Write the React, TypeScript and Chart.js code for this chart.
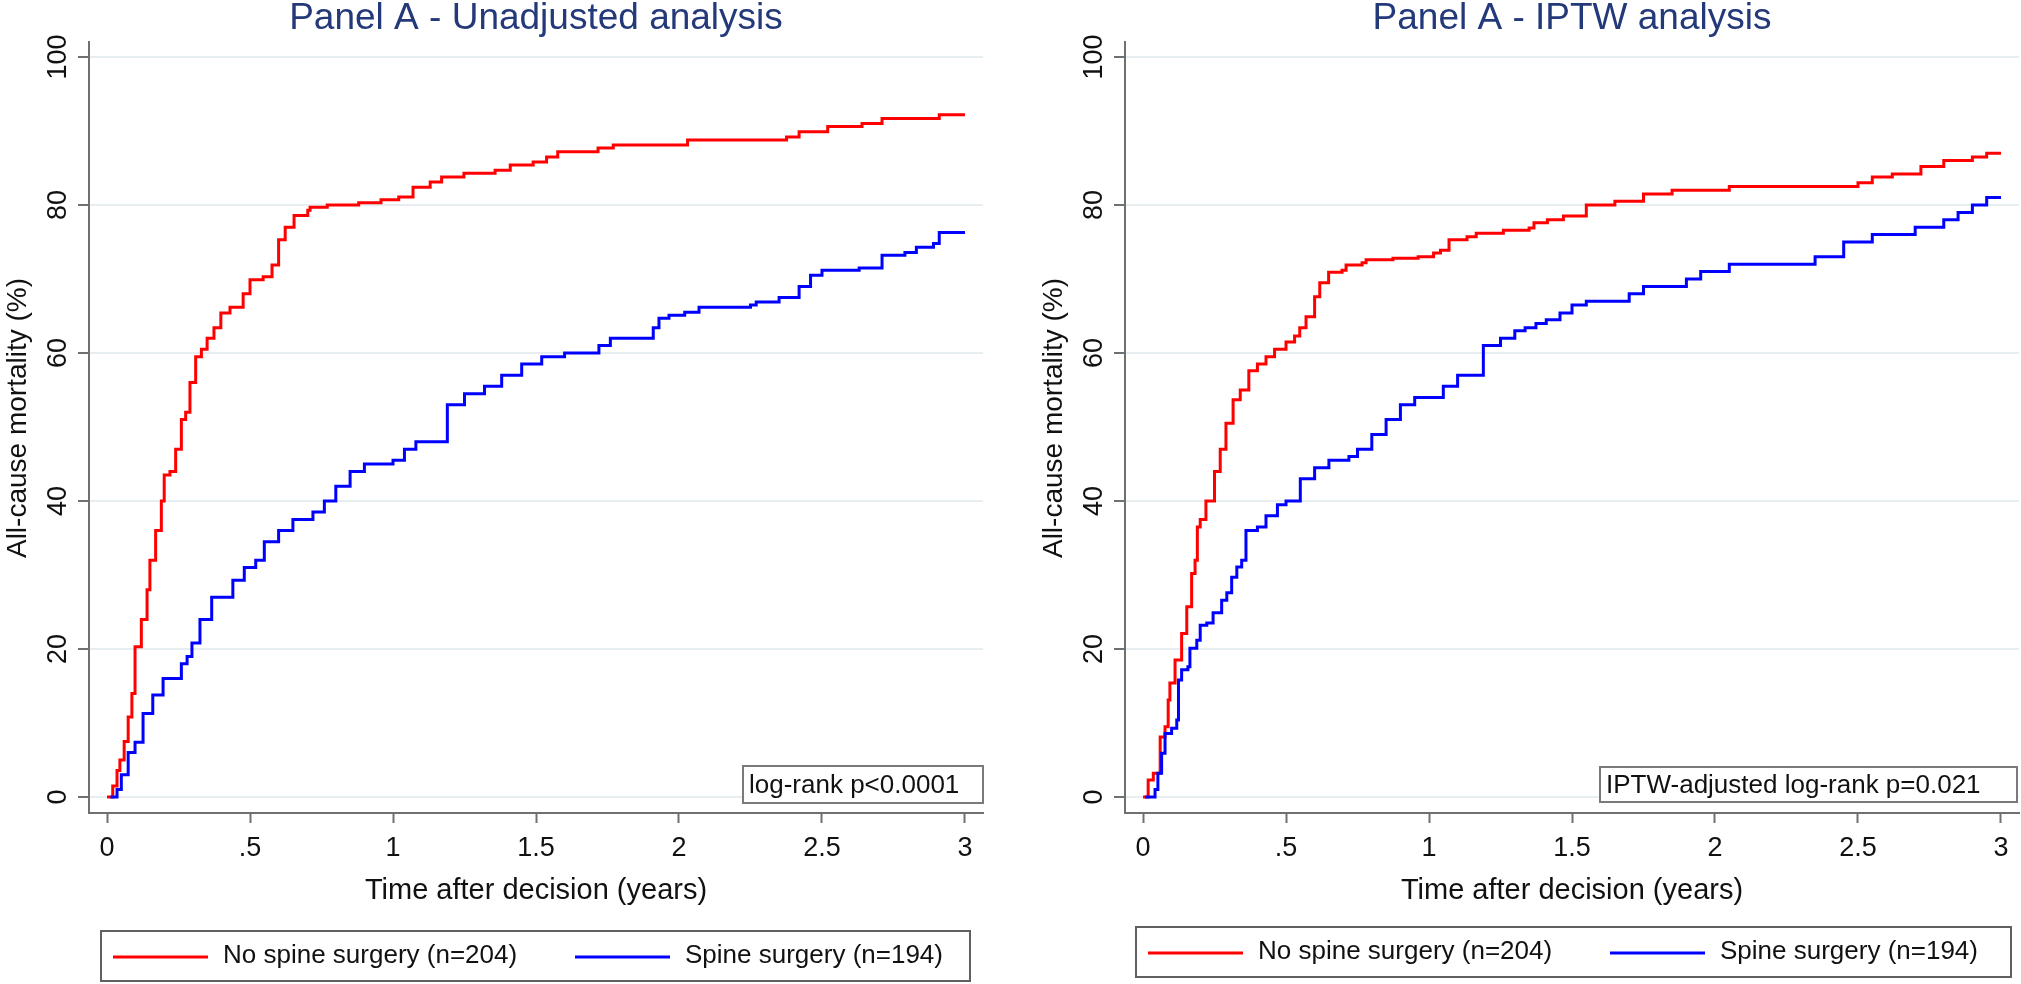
import React, { useEffect, useRef } from 'react';
import { Chart, registerables } from 'chart.js';

Chart.register(...registerables);

// ---------- data ----------
const X_TICKS = [0, 0.5, 1, 1.5, 2, 2.5, 3];
const X_TICK_LABELS = ['0', '.5', '1', '1.5', '2', '2.5', '3'];
const Y_TICKS = [0, 20, 40, 60, 80, 100];
const Y_TICK_LABELS = ['0', '20', '40', '60', '80', '100'];

const SERIES_LABELS = ['No spine surgery (n=204)', 'Spine surgery (n=194)'];
const PANEL_TITLES = ['Panel A - Unadjusted analysis', 'Panel A - IPTW analysis'];
const PANEL_NOTES = ['log-rank p<0.0001', 'IPTW-adjusted log-rank p=0.021'];
const X_TITLE = 'Time after decision (years)';
const Y_TITLE = 'All-cause mortality (%)';

// Unadjusted, no spine surgery (red)
const UNADJ_NOSURG_T = [0, 0.02, 0.035, 0.045, 0.06, 0.074, 0.087, 0.098, 0.12, 0.14, 0.15, 0.17, 0.19, 0.2, 0.22, 0.24, 0.26, 0.275, 0.29, 0.31, 0.33, 0.35, 0.374, 0.398, 0.43, 0.476, 0.5, 0.546, 0.577, 0.6, 0.623, 0.654, 0.702, 0.71, 0.77, 0.88, 0.958, 1.02, 1.07, 1.13, 1.17, 1.248, 1.357, 1.41, 1.49, 1.537, 1.576, 1.717, 1.77, 2.03, 2.376, 2.42, 2.52, 2.64, 2.71, 2.91, 3.0];
const UNADJ_NOSURG_V = [0, 1.5, 3.6, 5, 7.5, 10.8, 14, 20.3, 24, 28, 32, 36, 40, 43.5, 44, 47, 51, 52, 56, 59.5, 60.5, 62, 63.4, 65.4, 66.2, 68, 69.9, 70.3, 71.9, 75.3, 77, 78.6, 79.3, 79.7, 80, 80.3, 80.7, 81.1, 82.4, 83.1, 83.8, 84.3, 84.7, 85.4, 85.8, 86.5, 87.2, 87.7, 88.1, 88.8, 89.2, 89.9, 90.6, 91, 91.7, 92.2, 92.2];

// Unadjusted, spine surgery (blue)
const UNADJ_SURG_T = [0.012, 0.035, 0.05, 0.074, 0.098, 0.126, 0.16, 0.196, 0.26, 0.28, 0.297, 0.325, 0.366, 0.44, 0.48, 0.52, 0.55, 0.6, 0.65, 0.72, 0.76, 0.8, 0.85, 0.9, 1.0, 1.04, 1.08, 1.19, 1.25, 1.32, 1.38, 1.45, 1.52, 1.6, 1.72, 1.76, 1.91, 1.93, 1.965, 2.02, 2.07, 2.25, 2.27, 2.35, 2.42, 2.46, 2.5, 2.63, 2.71, 2.79, 2.83, 2.89, 2.91, 3.0];
const UNADJ_SURG_V = [0, 1, 3, 6, 7.4, 11.3, 13.8, 16, 18, 19, 20.8, 24, 27, 29.3, 31, 32, 34.5, 36, 37.5, 38.5, 40, 42, 44, 45, 45.5, 47, 48, 53, 54.5, 55.5, 57, 58.5, 59.5, 60, 61, 62, 63.4, 64.7, 65.1, 65.5, 66.2, 66.5, 66.9, 67.5, 69, 70.5, 71.2, 71.5, 73.2, 73.6, 74.3, 74.8, 76.3, 76.3];

// IPTW, no spine surgery (red)
const IPTW_NOSURG_T = [0, 0.018, 0.036, 0.06, 0.077, 0.088, 0.094, 0.112, 0.135, 0.153, 0.17, 0.182, 0.19, 0.2, 0.22, 0.25, 0.27, 0.29, 0.315, 0.34, 0.37, 0.4, 0.43, 0.46, 0.5, 0.53, 0.548, 0.57, 0.6, 0.618, 0.649, 0.696, 0.71, 0.766, 0.78, 0.874, 0.962, 1.016, 1.04, 1.07, 1.133, 1.165, 1.26, 1.35, 1.367, 1.414, 1.47, 1.55, 1.65, 1.75, 1.85, 2.05, 2.5, 2.55, 2.62, 2.72, 2.8, 2.9, 2.95, 3.0];
const IPTW_NOSURG_V = [0, 2.3, 3.2, 8.1, 9.5, 13.1, 15.4, 18.5, 22.1, 25.7, 30.2, 32, 36.5, 37.5, 40, 44, 47, 50.5, 53.7, 55, 57.6, 58.5, 59.5, 60.5, 61.5, 62.3, 63.4, 64.9, 67.6, 69.5, 70.9, 71.2, 71.9, 72.2, 72.6, 72.8, 73, 73.5, 73.9, 75.3, 75.7, 76.2, 76.6, 76.9, 77.6, 78, 78.5, 80, 80.5, 81.5, 82, 82.5, 83, 83.8, 84.2, 85.2, 86, 86.5, 87, 87];

// IPTW, spine surgery (blue)
const IPTW_SURG_T = [0.007, 0.042, 0.052, 0.065, 0.077, 0.1, 0.118, 0.124, 0.135, 0.157, 0.164, 0.188, 0.2, 0.223, 0.245, 0.275, 0.293, 0.31, 0.328, 0.345, 0.36, 0.4, 0.43, 0.47, 0.5, 0.55, 0.6, 0.65, 0.72, 0.75, 0.8, 0.85, 0.9, 0.95, 1.05, 1.1, 1.19, 1.25, 1.3, 1.336, 1.374, 1.41, 1.458, 1.5, 1.55, 1.7, 1.75, 1.9, 1.95, 2.05, 2.35, 2.45, 2.55, 2.7, 2.8, 2.85, 2.9, 2.95, 3.0];
const IPTW_SURG_V = [0, 1, 3.2, 5.9, 8.6, 9.3, 10.4, 15.8, 17.2, 17.6, 20.1, 21.2, 23.2, 23.5, 24.9, 26.6, 27.6, 29.7, 31.1, 32, 36, 36.5, 38, 39.5, 40, 43, 44.5, 45.5, 46, 47, 49, 51, 53, 54, 55.5, 57, 61, 62, 63, 63.4, 64, 64.5, 65.4, 66.5, 67, 68, 69, 70, 71, 72, 73, 75, 76, 77, 78, 79, 80, 81, 81];

// ---------- style / layout ----------
const FONT = '"Liberation Sans", Arial, Helvetica, sans-serif';
const RED = '#ff0000';
const BLUE = '#0000ff';
const AXIS_COLOR = '#707070';
const GRID_COLOR = '#e6eef1';
const TITLE_COLOR = '#24397a';
const TEXT_COLOR = '#111111';
const X_MIN = -0.063;
const X_MAX = 3.063;
const Y_MIN = -2.16;
const Y_MAX = 102.03;
const PAGE_H = 984;

type PanelCfg = {
  pageLeft: number;
  width: number;
  title: string;
  note: string;
  noteBox: [number, number, number, number];
  legendBox: [number, number, number, number];
  redT: number[];
  redV: number[];
  blueT: number[];
  blueV: number[];
};

const PANELS: PanelCfg[] = [
  {
    pageLeft: 0,
    width: 1036,
    title: PANEL_TITLES[0],
    note: PANEL_NOTES[0],
    noteBox: [743, 766, 983, 803],
    legendBox: [101, 931, 970, 981],
    redT: UNADJ_NOSURG_T,
    redV: UNADJ_NOSURG_V,
    blueT: UNADJ_SURG_T,
    blueV: UNADJ_SURG_V,
  },
  {
    pageLeft: 1036,
    width: 985,
    title: PANEL_TITLES[1],
    note: PANEL_NOTES[1],
    noteBox: [564, 767, 981, 802],
    legendBox: [100, 927, 975, 977],
    redT: IPTW_NOSURG_T,
    redV: IPTW_NOSURG_V,
    blueT: IPTW_SURG_T,
    blueV: IPTW_SURG_V,
  },
];

function toPoints(t: number[], v: number[]) {
  return t.map((x, i) => ({ x, y: v[i] }));
}

function Panel({ cfg }: { cfg: PanelCfg }) {
  const ref = useRef<HTMLCanvasElement | null>(null);

  useEffect(() => {
    if (!ref.current) return;

    const textPlugin = {
      id: 'panelText',
      afterDraw(chart: any) {
        const ctx: CanvasRenderingContext2D = chart.ctx;
        const { left, right } = chart.chartArea;
        const cx = (left + right) / 2;
        ctx.save();
        ctx.textAlign = 'center';
        ctx.textBaseline = 'middle';

        // title
        ctx.fillStyle = TITLE_COLOR;
        ctx.font = `37px ${FONT}`;
        ctx.fillText(cfg.title, cx, 19);

        // y tick labels (rotated)
        const ys = chart.scales.y;
        ctx.fillStyle = TEXT_COLOR;
        ctx.font = `27px ${FONT}`;
        Y_TICKS.forEach((v, i) => {
          const py = ys.getPixelForValue(v);
          ctx.save();
          ctx.translate(left - 30.5, py);
          ctx.rotate(-Math.PI / 2);
          ctx.fillText(Y_TICK_LABELS[i], 0, 0);
          ctx.restore();
        });

        // y title
        ctx.font = `28px ${FONT}`;
        ctx.save();
        ctx.translate(18, 418);
        ctx.rotate(-Math.PI / 2);
        ctx.fillText(Y_TITLE, 0, 0);
        ctx.restore();

        // x title
        ctx.font = `29px ${FONT}`;
        ctx.fillText(X_TITLE, cx, 891);

        // note box
        const [nx0, ny0, nx1, ny1] = cfg.noteBox;
        ctx.fillStyle = '#ffffff';
        ctx.fillRect(nx0, ny0, nx1 - nx0, ny1 - ny0);
        ctx.strokeStyle = '#7a7a7a';
        ctx.lineWidth = 2;
        ctx.strokeRect(nx0, ny0, nx1 - nx0, ny1 - ny0);
        ctx.fillStyle = TEXT_COLOR;
        ctx.font = `26px ${FONT}`;
        ctx.textAlign = 'left';
        ctx.fillText(cfg.note, nx0 + 6, (ny0 + ny1) / 2 + 1);

        // legend
        const [lx0, ly0, lx1, ly1] = cfg.legendBox;
        ctx.strokeStyle = '#606060';
        ctx.lineWidth = 2;
        ctx.strokeRect(lx0, ly0, lx1 - lx0, ly1 - ly0);
        const ly = (ly0 + ly1) / 2;
        const ds = chart.data.datasets;
        const itemX = [lx0 + 12, lx0 + 474];
        ds.forEach((d: any, i: number) => {
          const x0 = itemX[i];
          ctx.strokeStyle = d.borderColor;
          ctx.lineWidth = 3;
          ctx.beginPath();
          ctx.moveTo(x0, ly + 1);
          ctx.lineTo(x0 + 95, ly + 1);
          ctx.stroke();
          ctx.fillStyle = TEXT_COLOR;
          ctx.font = `26px ${FONT}`;
          ctx.textAlign = 'left';
          ctx.fillText(d.label, x0 + 110, ly);
        });

        ctx.restore();
      },
    };

    const chart = new Chart(ref.current, {
      type: 'line',
      data: {
        datasets: [
          {
            label: SERIES_LABELS[0],
            data: toPoints(cfg.redT, cfg.redV),
            borderColor: RED,
            backgroundColor: RED,
            borderWidth: 3,
            pointRadius: 0,
            stepped: 'before',
            fill: false,
            order: 2,
          },
          {
            label: SERIES_LABELS[1],
            data: toPoints(cfg.blueT, cfg.blueV),
            borderColor: BLUE,
            backgroundColor: BLUE,
            borderWidth: 3,
            pointRadius: 0,
            stepped: 'before',
            fill: false,
            order: 1,
          },
        ],
      },
      options: {
        animation: false,
        responsive: false,
        devicePixelRatio: 1,
        events: [],
        layout: { padding: { left: 0, top: 42, right: cfg.width - 983, bottom: 0 } },
        plugins: {
          legend: { display: false },
          title: { display: false },
          tooltip: { enabled: false },
        },
        scales: {
          x: {
            type: 'linear',
            min: X_MIN,
            max: X_MAX,
            afterBuildTicks: (s: any) => {
              s.ticks = X_TICKS.map((v) => ({ value: v }));
            },
            afterFit: (s: any) => {
              s.height = PAGE_H - 813;
            },
            border: { display: true, color: AXIS_COLOR, width: 2 },
            grid: {
              display: true,
              drawOnChartArea: false,
              drawTicks: true,
              tickLength: 10,
              tickColor: AXIS_COLOR,
              tickWidth: 2,
            },
            ticks: {
              autoSkip: false,
              maxRotation: 0,
              minRotation: 0,
              padding: 9,
              color: TEXT_COLOR,
              font: { family: FONT, size: 27, lineHeight: 1.2 },
              callback: (_v: any, i: number) => X_TICK_LABELS[i],
            },
          },
          y: {
            type: 'linear',
            min: Y_MIN,
            max: Y_MAX,
            afterBuildTicks: (s: any) => {
              s.ticks = Y_TICKS.map((v) => ({ value: v }));
            },
            afterFit: (s: any) => {
              s.width = 89;
            },
            border: { display: true, color: AXIS_COLOR, width: 2 },
            grid: {
              display: true,
              drawOnChartArea: true,
              color: GRID_COLOR,
              lineWidth: 2,
              drawTicks: true,
              tickLength: 11,
              tickColor: AXIS_COLOR,
              tickWidth: 2,
            },
            ticks: { display: false },
          },
        },
      },
      plugins: [textPlugin],
    } as any);

    return () => chart.destroy();
  }, [cfg]);

  return (
    <canvas
      ref={ref}
      width={cfg.width}
      height={PAGE_H}
      style={{ position: 'absolute', left: cfg.pageLeft, top: 0, width: cfg.width, height: PAGE_H }}
    />
  );
}

export default function App() {
  return (
    <div
      style={{
        position: 'fixed',
        left: 0,
        top: 0,
        width: 2021,
        height: PAGE_H,
        background: '#ffffff',
        overflow: 'hidden',
      }}
    >
      {PANELS.map((p, i) => (
        <Panel key={i} cfg={p} />
      ))}
    </div>
  );
}
